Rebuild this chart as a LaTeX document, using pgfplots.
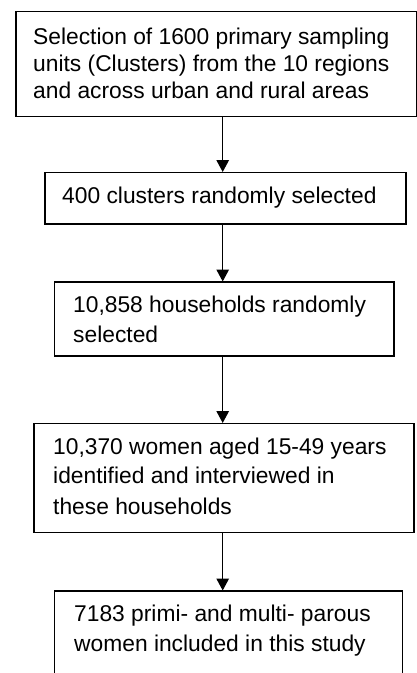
\documentclass[border=0pt]{standalone}
\usepackage{fontspec}
\setmainfont{Liberation Sans}
\usepackage{pgfplots}
\pgfplotsset{compat=1.18}
\usetikzlibrary{arrows.meta}
\newcommand\ft{\fontsize{22.8pt}{27pt}\selectfont}
\begin{document}
\begin{tikzpicture}
\begin{axis}[width=417pt,height=673pt,scale only axis,
  xmin=0,xmax=417,ymin=0,ymax=673,y dir=reverse,
  hide axis,clip=false,anchor=south west,at={(0pt,0pt)}]
% boxes
\addplot[black,line width=1.9pt,line join=miter] coordinates {(16,11.5)(416.5,11.5)(416.5,116.5)(16,116.5)} -- cycle;
\addplot[black,line width=1.9pt,line join=miter] coordinates {(45,172.5)(406,172.5)(406,224)(45,224)} -- cycle;
\addplot[black,line width=1.9pt,line join=miter] coordinates {(54.5,282)(394,282)(394,356)(54.5,356)} -- cycle;
\addplot[black,line width=1.9pt,line join=miter] coordinates {(34,423.5)(414,423.5)(414,532.5)(34,532.5)} -- cycle;
\addplot[black,line width=1.9pt,line join=miter] coordinates {(54.5,700)(54.5,591)(402.5,591)(402.5,700)};
% arrows
\addplot[black,line width=1.4pt,-{Triangle[width=12.5pt,length=12pt]}] coordinates {(222.7,116.5)(222.7,172)};
\addplot[black,line width=1.4pt,-{Triangle[width=12.5pt,length=12pt]}] coordinates {(222.7,224)(222.7,281.5)};
\addplot[black,line width=1.4pt,-{Triangle[width=12.5pt,length=12pt]}] coordinates {(222.7,356)(222.7,423)};
\addplot[black,line width=1.4pt,-{Triangle[width=12.5pt,length=12pt]}] coordinates {(222.7,532.5)(222.7,590.5)};
% texts
\node[anchor=base west,inner sep=0pt] at (axis cs:33,44) {\ft Selection of 1600 primary sampling};
\node[anchor=base west,inner sep=0pt] at (axis cs:33,71) {\ft units (Clusters) from the 10 regions};
\node[anchor=base west,inner sep=0pt] at (axis cs:33,98.5) {\ft and across urban and rural areas};
\node[anchor=base west,inner sep=0pt] at (axis cs:62,203) {\ft 400 clusters randomly selected};
\node[anchor=base west,inner sep=0pt] at (axis cs:73,312.7) {\ft 10,858 households randomly};
\node[anchor=base west,inner sep=0pt] at (axis cs:73,342.7) {\ft selected};
\node[anchor=base west,inner sep=0pt] at (axis cs:53,454.3) {\ft 10,370 women aged 15-49 years};
\node[anchor=base west,inner sep=0pt] at (axis cs:53,483.3) {\ft identified and interviewed in};
\node[anchor=base west,inner sep=0pt] at (axis cs:53,514.3) {\ft these households};
\node[anchor=base west,inner sep=0pt] at (axis cs:74,621.7) {\ft 7183 primi- and multi- parous};
\node[anchor=base west,inner sep=0pt] at (axis cs:74,651) {\ft women included in this study};
\end{axis}
\pgfresetboundingbox
\useasboundingbox (0pt,0pt) rectangle (417pt,673pt);
\end{tikzpicture}
\end{document}
